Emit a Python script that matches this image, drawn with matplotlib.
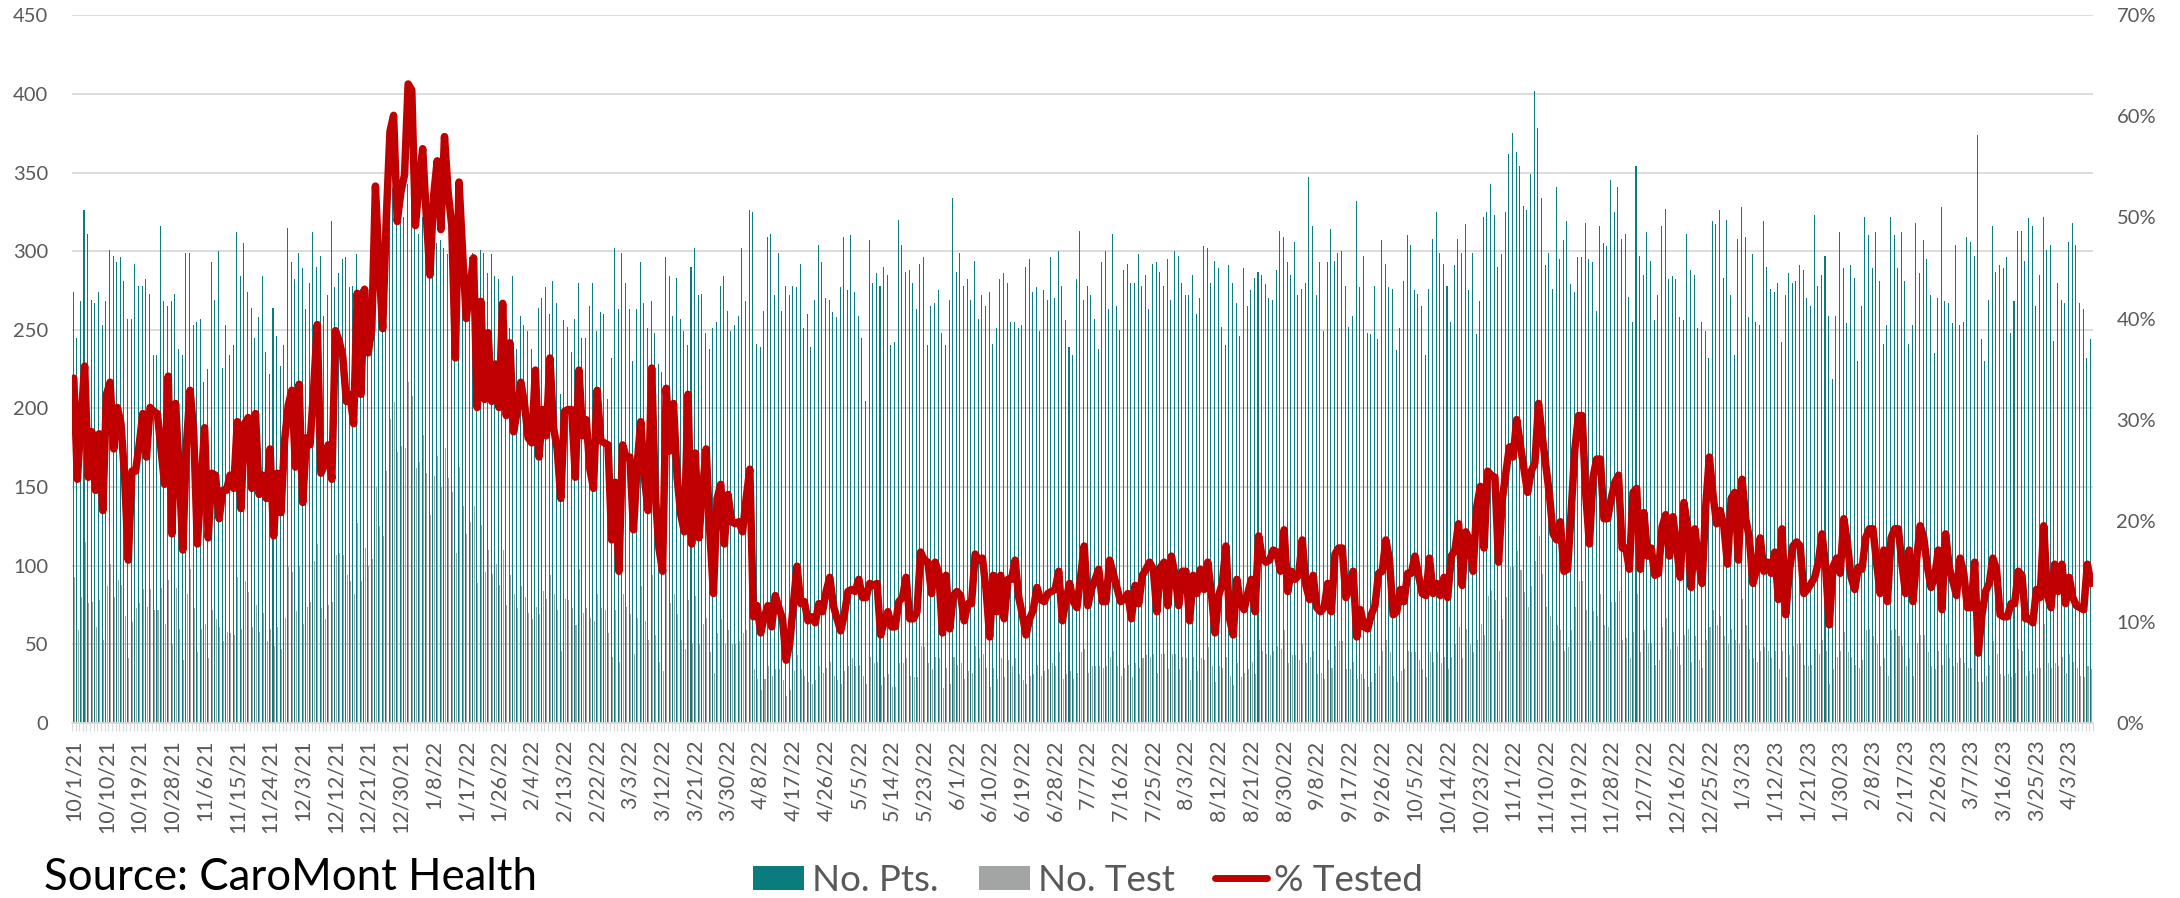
import numpy as np
import pandas as pd
import matplotlib
matplotlib.use("Agg")
from matplotlib import pyplot as plt
from matplotlib.patches import Patch
from matplotlib.lines import Line2D
from matplotlib.ticker import FuncFormatter

plt.rcParams['font.family'] = ['Lato', 'DejaVu Sans']

# Daily values, 10/1/21 .. 4/9/23
start_date = "2021-10-01"

no_pts = [
    274, 245, 268, 326, 311, 269, 267, 274, 253, 268, 301, 297, 293, 296, 281, 257, 257, 292, 278, 278,
    282, 273, 234, 234, 316, 268, 265, 268, 273, 238, 234, 299, 299, 253, 255, 257, 217, 225, 293, 269,
    300, 226, 253, 234, 240, 312, 284, 305, 274, 264, 245, 258, 284, 236, 222, 264, 246, 227, 240, 315,
    293, 282, 299, 289, 263, 280, 312, 290, 297, 259, 272, 319, 277, 286, 295, 296, 277, 278, 298, 276,
    259, 272, 267, 282, 277, 305, 319, 330, 340, 347, 335, 322, 343, 332, 330, 311, 322, 317, 298, 302,
    305, 307, 302, 298, 299, 298, 305, 298, 301, 296, 299, 285,
    301, 299, 286, 298, 284, 282, 265, 248, 251, 284, 238, 259, 253, 249, 238, 213, 264, 270, 277, 260,
    281, 267, 209, 256, 252, 236, 257, 280, 245, 245, 265, 280, 249, 261, 260, 206, 232, 302, 263, 299,
    280, 263, 230, 263, 293, 267, 251, 268, 248, 228, 223, 296, 284, 259, 283, 257, 249, 240, 290, 302,
    272, 273, 248, 238, 251, 255, 278, 284, 262, 249, 253, 259, 302, 268, 326, 325, 241, 239, 262, 309,
    311, 272, 299, 262, 278, 272, 278, 277, 292, 251, 260, 239, 269, 304, 293, 270, 269, 261, 258, 277,
    309, 275, 310, 274, 259, 245, 205, 307, 280, 286, 278, 290,
    285, 240, 242, 320, 304, 287, 288, 280, 263, 292, 296, 240, 265, 267, 275, 248, 240, 269, 334, 287,
    299, 278, 282, 269, 294, 257, 272, 265, 274, 241, 251, 282, 286, 280, 255, 255, 251, 253, 290, 295,
    274, 277, 249, 275, 269, 296, 270, 300, 278, 256, 239, 234, 282, 313, 269, 278, 272, 257, 238, 293,
    300, 263, 311, 265, 250, 288, 292, 280, 280, 298, 278, 285, 263, 292, 293, 287, 278, 295, 269, 300,
    297, 280, 272, 272, 285, 260, 270, 303, 302, 280, 294, 289, 252, 240, 291, 280, 267, 246, 289, 265,
    275, 283, 287, 285, 279, 270, 269, 288, 313, 309, 293,
    285, 306, 272, 276, 280, 347, 316, 272, 293, 249, 293, 314, 294, 299, 300, 278, 252, 259, 332, 277,
    297, 248, 247, 278, 244, 307, 292, 277, 276, 237, 251, 281, 310, 304, 275, 273, 265, 234, 276, 308,
    325, 299, 292, 278, 255, 291, 308, 299, 317, 275, 299, 247, 268, 322, 325, 343, 323, 290, 298, 325,
    362, 375, 363, 354, 329, 326, 349, 402, 378, 334, 291, 299, 276, 341, 295, 307, 319, 279, 274, 296,
    296, 318, 295, 293, 262, 316, 305, 303, 345, 325, 341, 308, 311, 271, 255, 354, 297, 285, 312, 294,
    256, 272, 316, 327, 282, 284, 282, 258, 256, 311, 288, 285,
    251, 255, 249, 232, 319, 317, 326, 283, 320, 272, 234, 308, 328, 309, 258, 298, 255, 253, 319, 290,
    276, 274, 280, 242, 272, 286, 280, 281, 291, 288, 270, 265, 323, 278, 285, 297, 259, 219, 259, 312,
    289, 254, 291, 283, 230, 265, 322, 310, 289, 312, 281, 241, 253, 322, 310, 289, 312, 281, 241, 253,
    318, 286, 307, 295, 272, 235, 270, 328, 268, 267, 254, 304, 253, 255, 309, 306, 297, 374, 244, 230,
    269, 316, 287, 291, 289, 296, 248, 268, 313, 313, 294, 321, 316, 265, 285, 322, 301, 304, 243, 280,
    269, 267, 306, 318, 304, 267, 263, 232, 244,
]

no_test = [
    93, 59, 80, 115, 76, 77, 61, 78, 53, 87, 101, 80, 91, 88, 68, 41, 64, 73, 76, 85,
    74, 85, 72, 72, 86, 63, 91, 50, 86, 60, 40, 82, 98, 73, 45, 60, 63, 41, 72, 66,
    61, 52, 58, 57, 56, 93, 60, 90, 83, 61, 75, 58, 70, 52, 60, 49, 61, 47, 67, 99,
    96, 71, 100, 63, 74, 77, 103, 114, 73, 66, 75, 77, 107, 108, 107, 94, 90, 82, 127, 90,
    111, 100, 104, 150, 125, 119, 160, 193, 204, 172, 176, 175, 217, 208, 162, 166, 183, 159, 132, 157,
    170, 150, 175, 156, 147, 108, 163, 138, 120, 128, 138, 89,
    126, 96, 110, 95, 101, 88, 110, 75, 94, 82, 73, 87, 80, 70, 66, 74, 69, 84, 79, 94,
    82, 72, 46, 79, 78, 73, 62, 98, 70, 73, 67, 65, 82, 73, 72, 57, 42, 72, 39, 82,
    74, 69, 44, 67, 87, 65, 53, 94, 56, 39, 33, 98, 76, 82, 69, 53, 47, 78, 51, 81,
    50, 63, 67, 45, 32, 57, 66, 50, 59, 50, 50, 52, 57, 59, 82, 34, 28, 21, 28, 36,
    30, 34, 34, 27, 17, 21, 33, 43, 34, 30, 26, 25, 27, 36, 32, 35, 39, 30, 27, 25,
    33, 36, 41, 36, 37, 30, 25, 42, 38, 39, 24, 29,
    31, 23, 23, 38, 38, 41, 30, 29, 29, 49, 48, 38, 34, 42, 41, 22, 35, 25, 42, 37,
    38, 28, 33, 32, 49, 41, 44, 35, 23, 35, 28, 41, 29, 40, 36, 41, 31, 27, 25, 30,
    31, 37, 30, 33, 34, 38, 36, 45, 28, 31, 33, 28, 32, 45, 47, 32, 36, 36, 36, 35,
    36, 42, 46, 36, 30, 35, 37, 29, 38, 35, 41, 43, 42, 44, 32, 44, 44, 34, 44, 44,
    34, 42, 41, 27, 42, 33, 41, 40, 48, 36, 26, 36, 35, 42, 30, 24, 38, 29, 32, 34,
    39, 31, 53, 46, 44, 43, 46, 49, 47, 59, 38,
    43, 43, 40, 50, 38, 42, 46, 31, 32, 28, 40, 35, 49, 52, 52, 34, 34, 39, 28, 31,
    28, 23, 26, 32, 36, 46, 53, 45, 30, 26, 33, 34, 46, 45, 45, 40, 34, 29, 45, 39,
    45, 38, 42, 34, 42, 50, 61, 41, 60, 50, 45, 53, 63, 56, 81, 84, 78, 46, 66, 80,
    99, 99, 109, 97, 83, 74, 87, 103, 119, 95, 74, 68, 52, 62, 59, 46, 48, 59, 74, 90,
    90, 72, 52, 71, 68, 82, 62, 61, 77, 77, 84, 53, 54, 41, 58, 82, 45, 59, 51, 51,
    37, 40, 61, 67, 47, 58, 49, 37, 56, 60, 39, 55,
    40, 35, 53, 61, 72, 62, 68, 55, 50, 60, 53, 50, 79, 62, 47, 41, 39, 46, 48, 46,
    41, 46, 34, 46, 29, 43, 49, 50, 51, 37, 36, 37, 47, 44, 53, 46, 25, 34, 42, 46,
    58, 45, 42, 37, 35, 40, 59, 60, 55, 50, 36, 41, 30, 59, 60, 55, 49, 36, 41, 30,
    51, 56, 56, 45, 36, 34, 46, 37, 50, 41, 36, 38, 41, 38, 35, 35, 47, 26, 26, 30,
    37, 52, 44, 31, 30, 31, 29, 32, 47, 46, 30, 33, 31, 35, 35, 63, 38, 35, 38, 36,
    42, 32, 44, 39, 35, 30, 29, 36, 34,
]

pct_tested = [
    34.1, 24.1, 30.0, 35.3, 24.3, 28.8, 23.0, 28.6, 21.0, 32.5, 33.7, 27.1, 31.2, 29.6, 24.3, 16.1,
    24.9, 24.9, 27.5, 30.6, 26.3, 31.2, 30.8, 30.6, 27.1, 23.6, 34.3, 18.7, 31.6, 25.1, 17.1, 27.5,
    32.9, 28.8, 17.7, 23.4, 29.2, 18.3, 24.7, 24.5, 20.2, 23.0, 23.0, 24.5, 23.2, 29.8, 21.2, 29.6,
    30.2, 23.2, 30.6, 22.6, 24.5, 22.2, 27.1, 18.5, 24.7, 20.8, 27.9, 31.4, 32.9, 25.3, 33.5, 21.8,
    28.2, 27.5, 33.0, 39.4, 24.7, 25.5, 27.5, 24.1, 38.8, 37.8, 36.3, 31.8, 32.5, 29.6, 42.5, 32.5,
    42.9, 36.6, 39.0, 53.1, 45.0, 39.0, 50.0, 58.5, 60.1, 49.6, 52.5, 54.2, 63.2, 62.6, 49.2, 53.3,
    56.8, 50.1, 44.3, 52.1, 55.6, 48.8, 58.0, 52.5, 49.2, 36.1, 53.5, 46.4, 40.0, 43.1, 46.0, 31.2,
    41.7, 32.0, 38.6, 31.8, 35.5, 31.2, 41.5, 30.4, 37.6, 28.8, 30.8, 33.7, 31.6, 28.2, 27.7, 34.9,
    26.3, 31.0, 28.4, 36.1, 29.2, 27.1, 22.2, 30.8, 31.0, 31.0, 24.3, 34.9, 28.4, 30.0, 25.1, 23.2,
    32.9, 27.9, 27.7, 27.5, 18.1, 23.8, 15.0, 27.5, 26.3, 26.3, 19.1, 25.5, 29.8, 24.3, 21.0, 35.1,
    22.6, 17.3, 15.0, 33.1, 26.9, 31.6, 24.3, 20.6, 18.9, 32.5, 17.7, 26.7, 18.3, 23.0, 27.1, 18.9,
    12.8, 22.2, 23.6, 17.7, 22.6, 19.9, 19.7, 19.9, 18.9, 22.2, 25.1, 10.5, 11.6, 8.9, 10.5, 11.6,
    9.5, 12.6, 11.4, 10.3, 6.2, 7.9, 11.8, 15.5, 11.8, 12.0, 10.1, 10.5, 9.9, 11.8, 11.0, 13.0,
    14.4, 11.6, 10.3, 9.1, 10.7, 13.0, 13.2, 13.0, 14.2, 12.4, 12.4, 13.8, 13.6, 13.8, 8.7, 10.0,
    11.0, 9.5, 9.5, 12.0, 12.4, 14.4, 10.3, 10.3, 11.0, 16.9, 16.1, 15.9, 12.8, 15.9, 14.8, 8.9,
    14.6, 9.3, 12.6, 13.0, 12.6, 10.1, 11.8, 11.8, 16.7, 16.1, 16.3, 13.2, 8.5, 14.6, 11.0, 14.6,
    10.3, 14.2, 14.2, 16.1, 12.4, 10.7, 8.7, 10.3, 11.2, 13.4, 12.2, 12.0, 12.8, 13.0, 13.2, 15.0,
    10.1, 12.2, 13.8, 12.0, 11.4, 14.4, 17.5, 11.6, 13.2, 14.2, 15.2, 12.0, 12.0, 16.1, 14.8, 13.4,
    12.0, 12.2, 12.8, 10.3, 13.6, 11.8, 14.6, 15.2, 15.9, 15.2, 11.0, 15.4, 15.9, 11.6, 16.5, 14.6,
    11.6, 15.0, 15.0, 10.1, 14.6, 12.8, 15.2, 13.2, 15.9, 12.8, 8.9, 12.6, 13.8, 17.5, 10.3, 8.7,
    14.2, 11.8, 11.2, 12.8, 14.2, 11.0, 18.5, 16.3, 15.9, 16.1, 17.1, 16.9, 15.0, 19.1, 13.0,
    15.0, 14.2, 14.6, 18.1, 13.6, 12.2, 14.6, 11.4, 11.0, 11.4, 13.8, 11.0, 16.7, 17.3, 17.3, 12.4,
    13.4, 15.0, 8.5, 11.2, 9.5, 9.3, 10.7, 11.6, 14.8, 15.0, 18.1, 16.1, 10.7, 11.0, 13.2, 12.0,
    14.8, 14.8, 16.5, 14.6, 12.8, 12.6, 16.3, 12.8, 13.8, 12.6, 14.4, 12.4, 16.5, 17.1, 19.7, 13.6,
    18.9, 18.1, 15.0, 21.4, 23.4, 17.3, 24.9, 24.5, 24.3, 15.9, 22.0, 24.7, 27.3, 26.3, 30.0, 27.5,
    25.1, 22.8, 24.9, 25.7, 31.6, 28.4, 25.5, 22.6, 18.7, 18.1, 19.9, 15.0, 15.2, 21.0, 27.1, 30.4,
    30.4, 22.6, 17.7, 24.3, 26.1, 26.1, 20.2, 20.2, 22.2, 23.8, 24.5, 17.3, 17.3, 15.2, 22.8, 23.2,
    15.2, 20.8, 16.5, 17.3, 14.6, 14.8, 19.4, 20.6, 16.5, 20.4, 17.3, 14.4, 21.8, 19.4, 13.4, 19.2,
    16.1, 13.8, 21.4, 26.3, 22.6, 19.7, 21.0, 19.4, 15.7, 22.2, 22.8, 16.1, 24.1, 20.2, 18.3, 13.8,
    15.2, 18.3, 15.0, 15.9, 14.8, 16.9, 12.2, 19.2, 10.7, 15.0, 17.5, 17.9, 17.5, 12.8, 13.2, 13.8,
    14.4, 15.9, 18.7, 15.4, 9.7, 15.4, 16.3, 14.8, 20.2, 17.7, 14.4, 13.2, 15.4, 15.2, 18.3, 19.2,
    19.2, 15.9, 12.8, 17.1, 12.0, 18.3, 19.2, 19.2, 15.7, 12.8, 17.1, 12.0, 16.1, 19.5, 18.3, 15.4,
    13.4, 14.4, 17.1, 11.2, 18.7, 15.4, 14.0, 12.6, 16.3, 14.8, 11.4, 11.4, 15.9, 6.9, 10.7, 13.0,
    13.8, 16.3, 15.2, 10.7, 10.5, 10.5, 11.8, 11.8, 15.0, 14.6, 10.3, 10.3, 9.9, 13.2, 12.4, 19.5,
    12.6, 11.4, 15.7, 13.0, 15.7, 11.8, 14.4, 12.4, 11.6, 11.4, 11.2, 15.7, 13.8,
]

dates = pd.date_range(start_date, periods=len(pct_tested), freq="D")
tick_every = 9

teal = "#0B7C7E"
grey = "#A3A5A4"
red = "#C00000"
text_col = "#595959"
grid_col = "#D9D9D9"

fig = plt.figure(figsize=(21.8, 8.98), dpi=100)
ax = fig.add_axes([0.033, 0.195, 0.927, 0.788])

x = np.arange(len(dates))
ax.bar(x - 0.18, no_pts, width=0.28, color=teal, linewidth=0, zorder=2)
ax.bar(x + 0.18, no_test, width=0.28, color=grey, linewidth=0, zorder=2)

ax.set_xlim(-0.5, len(dates) - 0.5)
ax.set_ylim(0, 450)
ax.set_yticks(np.arange(0, 451, 50))
ax.yaxis.grid(True, color=grid_col, linewidth=1.3, zorder=0)
ax.set_axisbelow(True)
for s in ["top", "right", "left"]:
    ax.spines[s].set_visible(False)
ax.spines["bottom"].set_color(grid_col)
ax.spines["bottom"].set_linewidth(1.3)

tick_pos = x[::tick_every]
tick_lab = [f"{d.month}/{d.day}/{d.strftime('%y')}" for d in dates[::tick_every]]
ax.set_xticks(tick_pos)
ax.set_xticklabels(tick_lab, rotation=90, fontsize=15.5, color=text_col)
ax.set_xticks(np.arange(-0.5, len(dates), 1), minor=True)
ax.tick_params(axis="x", which="major", length=0, pad=12)
ax.tick_params(axis="x", which="minor", length=6, width=0.8, color=grid_col)
ax.tick_params(axis="y", length=0, pad=17, labelsize=14.5, labelcolor=text_col)

ax2 = ax.twinx()
ax2.plot(x, pct_tested, color=red, linewidth=5.4, solid_joinstyle="round",
         solid_capstyle="round", zorder=5)
ax2.set_ylim(0, 70)
ax2.set_yticks(np.arange(0, 71, 10))
ax2.yaxis.set_major_formatter(FuncFormatter(lambda v, p: f"{int(v)}%"))
ax2.tick_params(axis="y", length=0, pad=17, labelsize=14.5, labelcolor=text_col)
for s in ax2.spines.values():
    s.set_visible(False)

handles = [
    Patch(facecolor=teal, edgecolor="none", label="No. Pts."),
    Patch(facecolor=grey, edgecolor="none", label="No. Test"),
    Line2D([0], [0], color=red, linewidth=5, solid_capstyle="round", label="% Tested"),
]
leg = fig.legend(handles=handles, loc="center", bbox_to_anchor=(0.499, 0.020), ncol=3,
                 frameon=False, fontsize=26.5, handlelength=1.4, handleheight=0.62,
                 handletextpad=0.2, columnspacing=1.1, borderaxespad=0)
for t in leg.get_texts():
    t.set_color(text_col)

fig.text(0.020, 0.009, "Source: CaroMont Health", fontsize=31.5, color="black",
         ha="left", va="baseline")

fig.savefig("out.png", dpi=100)
